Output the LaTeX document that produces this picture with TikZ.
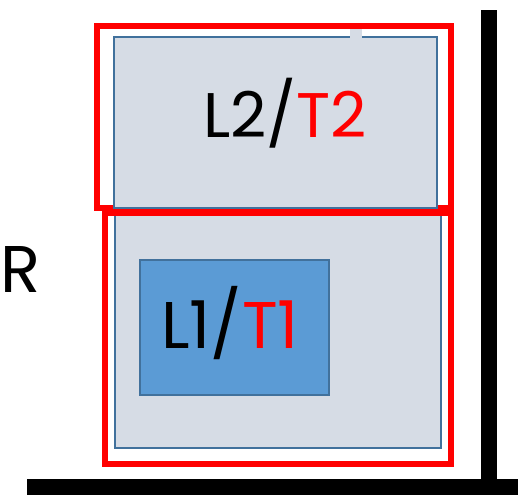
\documentclass[tikz,border=0pt]{standalone}
\usepackage{fontspec}
\setmainfont{Poppins}
\definecolor{lightbox}{HTML}{D6DCE5}
\definecolor{boxline}{HTML}{41719C}
\definecolor{innerfill}{HTML}{5B9BD5}
\definecolor{redline}{HTML}{FF0000}
\tikzset{
  redframe/.style={draw=redline, line width=6.5pt, inner sep=0pt, outer sep=0pt},
  bigtext/.style={font=\fontsize{66}{66}\selectfont, inner sep=0pt, anchor=base},
  axisbar/.style={fill=black}
}
\begin{document}
\begin{tikzpicture}[x=1pt,y=-1pt]
\useasboundingbox (0,0) rectangle (518,495);
% lower layer box
\node[draw=boxline, fill=lightbox, line width=1.6pt, inner sep=0pt, outer sep=0pt,
      minimum width=326pt, minimum height=238pt] (low) at (278,329) {};
\node[draw=boxline, fill=innerfill, line width=1.6pt, inner sep=0pt, outer sep=0pt,
      minimum width=189pt, minimum height=135pt] (l1) at (234.5,327.5) {};
\node[bigtext] (l1t) at (230,348) {L1/\textcolor{redline}{T1}};
% red frames
\node[redframe, minimum width=346pt, minimum height=251pt] (lowframe) at (278,338.5) {};
\node[redframe, minimum width=354pt, minimum height=182pt] (topframe) at (274,117) {};
% upper layer box
\node[draw=boxline, fill=lightbox, line width=1.6pt, inner sep=0pt, outer sep=0pt,
      minimum width=323pt, minimum height=171pt] (up) at (275.5,122.5) {};
\fill[lightbox] (350,29.5) rectangle (362,38);
\node[bigtext, font=\fontsize{63}{63}\selectfont] (l2t) at (285,137) {L2/\textcolor{redline}{T2}};
% R label
\node[bigtext, anchor=base west] (r) at (0,292) {R};
% axes
\fill[axisbar] (481,10) rectangle (497,481);
\fill[axisbar] (27,479) rectangle (518,495);
\end{tikzpicture}
\end{document}
